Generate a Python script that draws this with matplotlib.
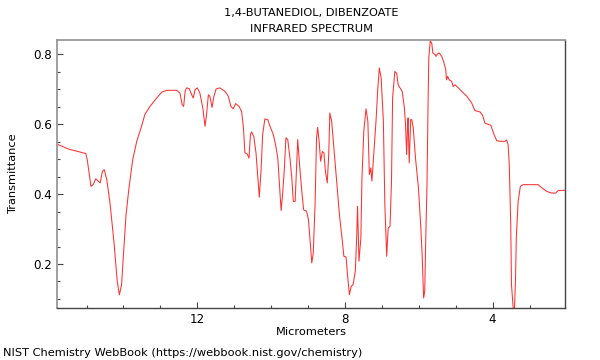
import matplotlib
matplotlib.use("Agg")
import matplotlib.pyplot as plt
from matplotlib.ticker import MultipleLocator

title = "1,4-BUTANEDIOL, DIBENZOATE\nINFRARED SPECTRUM"
footer = "NIST Chemistry WebBook (https://webbook.nist.gov/chemistry)"

# wavelength (micrometers)
micrometers = [
    15.80, 15.49, 15.02, 14.98, 14.88, 14.82, 14.75, 14.68, 14.63, 14.57,
    14.52, 14.45, 14.36, 14.25, 14.17, 14.11, 14.05, 14.00, 13.93, 13.85,
    13.75, 13.64, 13.51, 13.42, 13.28, 13.10, 12.96, 12.83, 12.56, 12.47,
    12.41, 12.37, 12.33, 12.29, 12.22, 12.15, 12.11, 12.06, 12.00, 11.93,
    11.85, 11.79, 11.75, 11.70, 11.66, 11.60, 11.55, 11.49, 11.39, 11.25,
    11.16, 11.09, 11.03, 10.96, 10.87, 10.80, 10.75, 10.71, 10.65, 10.60,
    10.56, 10.53, 10.47, 10.41, 10.36, 10.32, 10.27, 10.23, 10.17, 10.09,
    10.03, 9.94, 9.88, 9.82, 9.78, 9.73, 9.69, 9.64, 9.60, 9.55,
    9.49, 9.44, 9.40, 9.35, 9.31, 9.28, 9.23, 9.17, 9.12, 9.04,
    8.99, 8.95, 8.90, 8.86, 8.81, 8.77, 8.74, 8.70, 8.66, 8.61,
    8.57, 8.53, 8.48, 8.44, 8.41, 8.36, 8.30, 8.22, 8.15, 8.08,
    8.03, 7.97, 7.94, 7.88, 7.83, 7.78, 7.72, 7.68, 7.66, 7.62,
    7.57, 7.54, 7.49, 7.43, 7.38, 7.34, 7.30, 7.27, 7.21, 7.16,
    7.11, 7.07, 7.02, 6.96, 6.92, 6.87, 6.83, 6.78, 6.74, 6.71,
    6.65, 6.60, 6.56, 6.51, 6.45, 6.39, 6.36, 6.33, 6.30, 6.29,
    6.26, 6.22, 6.19, 6.15, 6.09, 6.01, 5.95, 5.91, 5.87, 5.84,
    5.81, 5.78, 5.75, 5.73, 5.69, 5.65, 5.62, 5.56, 5.53, 5.50,
    5.45, 5.38, 5.33, 5.27, 5.25, 5.22, 5.18, 5.11, 5.07, 5.02,
    4.93, 4.84, 4.70, 4.57, 4.48, 4.34, 4.27, 4.21, 4.16, 4.05,
    3.96, 3.89, 3.80, 3.67, 3.62, 3.58, 3.55, 3.51, 3.49, 3.44,
    3.41, 3.38, 3.36, 3.31, 3.25, 3.18, 2.77, 2.68, 2.54, 2.41,
    2.29, 2.23, 2.05,
]

transmittance = [
    0.543, 0.529, 0.516, 0.498, 0.422, 0.427, 0.444, 0.437, 0.432, 0.465,
    0.470, 0.441, 0.370, 0.255, 0.151, 0.112, 0.141, 0.227, 0.341, 0.418,
    0.498, 0.551, 0.594, 0.628, 0.651, 0.675, 0.692, 0.697, 0.697, 0.689,
    0.656, 0.651, 0.694, 0.704, 0.702, 0.684, 0.675, 0.699, 0.704, 0.689,
    0.646, 0.594, 0.627, 0.684, 0.680, 0.648, 0.680, 0.701, 0.704, 0.694,
    0.680, 0.651, 0.644, 0.659, 0.651, 0.637, 0.589, 0.518, 0.515, 0.503,
    0.570, 0.578, 0.565, 0.518, 0.446, 0.391, 0.475, 0.570, 0.615, 0.613,
    0.594, 0.570, 0.541, 0.503, 0.437, 0.353, 0.398, 0.475, 0.561, 0.556,
    0.503, 0.446, 0.379, 0.379, 0.484, 0.556, 0.484, 0.408, 0.355, 0.351,
    0.327, 0.274, 0.203, 0.229, 0.370, 0.561, 0.591, 0.551, 0.494, 0.522,
    0.518, 0.465, 0.432, 0.513, 0.632, 0.608, 0.532, 0.427, 0.341, 0.274,
    0.222, 0.220, 0.179, 0.112, 0.136, 0.141, 0.179, 0.284, 0.365, 0.208,
    0.274, 0.446, 0.580, 0.644, 0.608, 0.456, 0.475, 0.437, 0.532, 0.608,
    0.704, 0.761, 0.732, 0.608, 0.370, 0.222, 0.303, 0.308, 0.437, 0.675,
    0.751, 0.746, 0.713, 0.704, 0.694, 0.646, 0.599, 0.513, 0.608, 0.618,
    0.489, 0.613, 0.613, 0.589, 0.503, 0.418, 0.312, 0.227, 0.103, 0.122,
    0.284, 0.418, 0.656, 0.789, 0.839, 0.832, 0.804, 0.799, 0.794, 0.801,
    0.804, 0.794, 0.780, 0.756, 0.727, 0.737, 0.727, 0.723, 0.708, 0.713,
    0.704, 0.694, 0.680, 0.661, 0.639, 0.635, 0.625, 0.603, 0.601, 0.597,
    0.570, 0.553, 0.551, 0.551, 0.555, 0.541, 0.484, 0.312, 0.141, 0.068,
    0.068, 0.160, 0.274, 0.379, 0.422, 0.427, 0.427, 0.419, 0.408, 0.403,
    0.403, 0.410, 0.411,
]

fig = plt.figure(figsize=(6, 3.6), dpi=100)
ax = fig.add_axes([0.095, 0.1444, 0.8467, 0.7445])

ax.plot(micrometers, transmittance, color="#ff3030", linewidth=0.75)

ax.set_xlim(15.80, 2.04)
ax.set_ylim(0.074, 0.841)

ax.xaxis.set_major_locator(MultipleLocator(4))
ax.xaxis.set_minor_locator(MultipleLocator(1))
ax.yaxis.set_major_locator(MultipleLocator(0.2))
ax.yaxis.set_minor_locator(MultipleLocator(0.05))
ax.tick_params(which="both", direction="in", colors="#444444", labelcolor="black",
               labelsize=8.6, top=False, right=False)
ax.tick_params(which="major", length=4.5, width=0.8)
ax.tick_params(which="minor", length=2.5, width=0.8)

for side in ["top", "left"]:
    ax.spines[side].set_color("#999999")
    ax.spines[side].set_linewidth(1.3)
for side in ["bottom", "right"]:
    ax.spines[side].set_color("#444444")
    ax.spines[side].set_linewidth(1.0)

ax.set_title(title, fontsize=8.2, pad=6, linespacing=1.75)
ax.set_xlabel("Micrometers", fontsize=8.2, labelpad=1)
ax.set_ylabel("Transmittance", fontsize=8.2, labelpad=11)
fig.text(0.005, 0.005, footer, fontsize=8.2, ha="left", va="bottom")

fig.savefig("out.png", dpi=100)
